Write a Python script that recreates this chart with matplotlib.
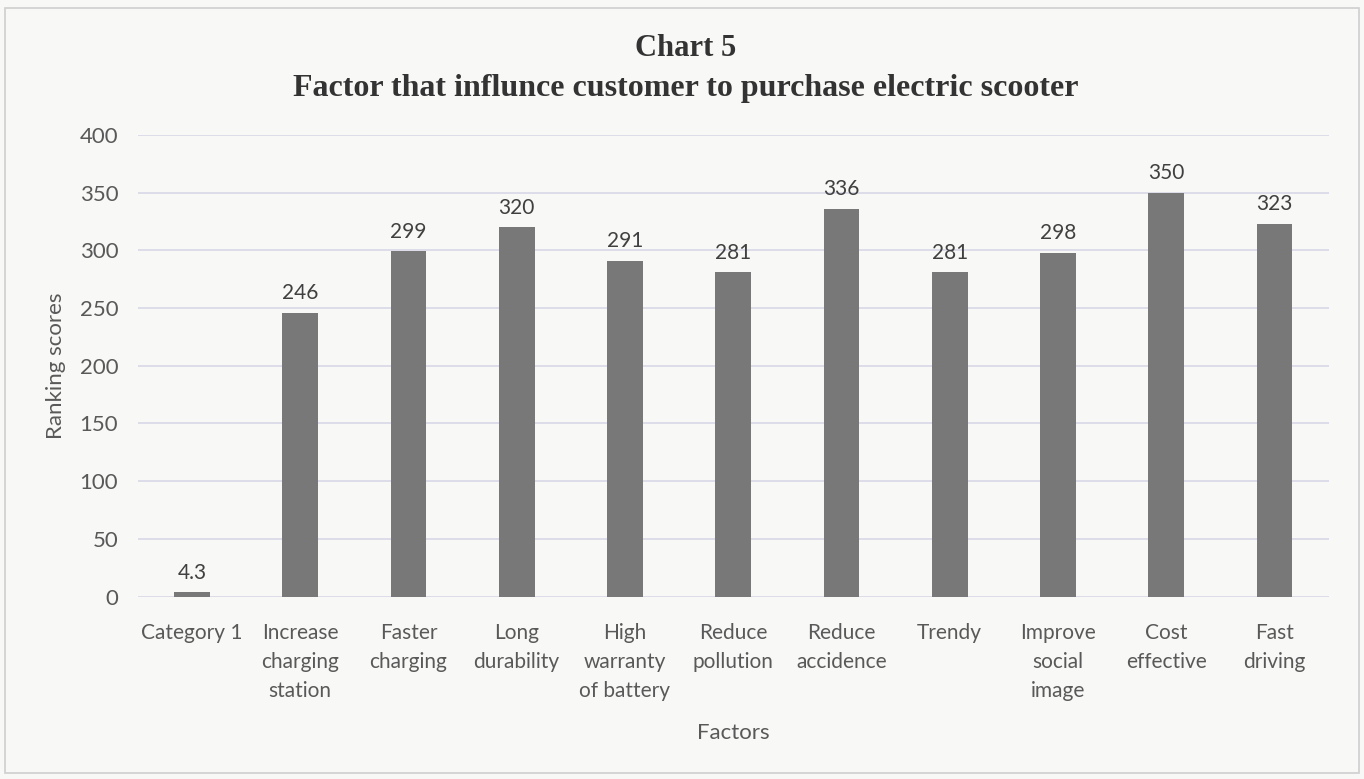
import matplotlib.pyplot as plt

factors = ['Category 1', 'Increase\ncharging\nstation', 'Faster\ncharging', 'Long\ndurability',
           'High\nwarranty\nof battery', 'Reduce\npollution', 'Reduce\naccidence', 'Trendy',
           'Improve\nsocial\nimage', 'Cost\neffective', 'Fast\ndriving']
scores = [4.3, 246, 299, 320, 291, 281, 336, 281, 298, 350, 323]
score_labels = ['4.3', '246', '299', '320', '291', '281', '336', '281', '298', '350', '323']
yticks = [0, 50, 100, 150, 200, 250, 300, 350, 400]

fig = plt.figure(figsize=(13.64, 7.79), dpi=100, facecolor='#f8f8f6')
ax = fig.add_axes([0.101, 0.234, 0.873, 0.593])
ax.set_facecolor('#f8f8f6')

x = range(len(factors))
bars = ax.bar(x, scores, width=0.33, color='#787878', zorder=3)

#value labels above bars
for xi, v, lab in zip(x, scores, score_labels):
    ax.text(xi, v + 8, lab, ha='center', va='bottom', fontsize=15,
            family='Lato', color='#404040')

ax.set_xlim(-0.5, len(factors) - 0.5)
ax.set_ylim(0, 400)
ax.set_yticks(yticks)
ax.set_xticks(list(x))
ax.set_xticklabels(factors, fontsize=15, family='Lato', color='#595959', linespacing=1.55)
for lab in ax.get_yticklabels():
    lab.set_fontsize(16)
    lab.set_family('Lato')
    lab.set_color('#595959')
ax.tick_params(axis='x', length=0, pad=19)
ax.tick_params(axis='y', length=0, pad=14)
ax.grid(axis='y', color='#d8d8e8', linewidth=1.2, zorder=0)
for s in ax.spines.values():
    s.set_visible(False)

ax.set_ylabel('Ranking scores', fontsize=16, family='Lato', color='#595959', labelpad=10)
ax.set_xlabel('Factors', fontsize=16, family='Lato', color='#595959', labelpad=16)

fig.text(0.503, 0.938, 'Chart 5', ha='center', va='center', fontsize=22,
         family='Liberation Serif', weight='bold', color='#333333')
fig.text(0.503, 0.886, 'Factor that influnce customer to purchase electric scooter',
         ha='center', va='center', fontsize=23, family='Liberation Serif',
         weight='bold', color='#333333')

# outer border
fig.patches.append(plt.Rectangle((0.004, 0.008), 0.992, 0.982, transform=fig.transFigure,
                                 fill=False, edgecolor='#cfcfcf', linewidth=1.2))

fig.savefig('out.png', dpi=100, facecolor=fig.get_facecolor())
